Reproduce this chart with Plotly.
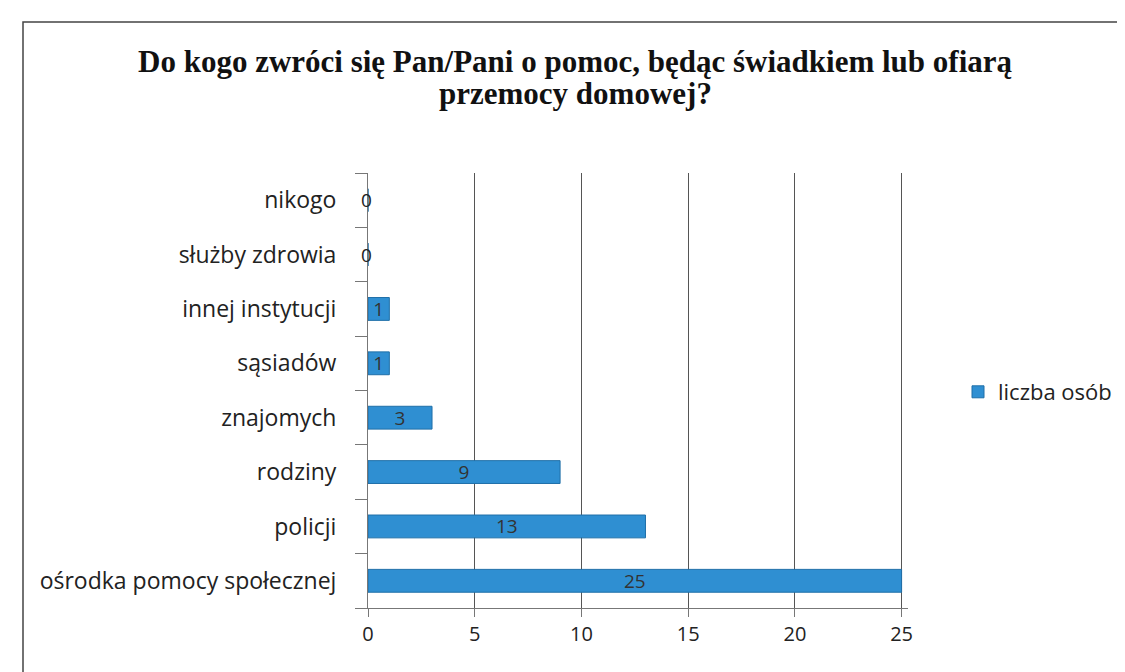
import plotly.graph_objects as go

categories = ["ośrodka pomocy społecznej", "policji", "rodziny", "znajomych",
              "sąsiadów", "innej instytucji", "służby zdrowia", "nikogo"]
values = [25, 13, 9, 3, 1, 1, 0, 0]
series_name = "liczba osób"
x_ticks = [0, 5, 10, 15, 20, 25]
title_lines = ["Do kogo zwróci się Pan/Pani o pomoc, będąc świadkiem lub ofiarą",
               "przemocy domowej?"]

W, H = 1125, 672
ml, mr, mt, mb = 360, 225, 165, 72
pw, ph = W - ml - mr, H - mt - mb

def px_x(p):
    return (p - ml) / pw

def px_y(p):
    return (H - mb - p) / ph

SANS = "Open Sans, Liberation Sans, sans-serif"
SERIF = "Liberation Serif, Times New Roman, serif"

fig = go.Figure()
fig.add_trace(go.Bar(
    y=categories, x=values, orientation="h", name=series_name,
    marker=dict(color="#2F8FD2", line=dict(color="#1F6FA8", width=1)),
    width=0.42,
    text=[str(v) if v > 0 else "" for v in values], textposition="inside",
    insidetextanchor="middle", textangle=0, constraintext="none",
    textfont=dict(family=SANS, size=19, color="#333333"),
    cliponaxis=False, showlegend=True,
))
# zero values shown at the axis
for c, v in zip(categories, values):
    if v == 0:
        fig.add_annotation(x=0, y=c, text="0", showarrow=False, xanchor="center", xshift=-2,
                           font=dict(family=SANS, size=19, color="#222"))

for i, (line, ypx) in enumerate(zip(title_lines, [53, 86])):
    fig.add_annotation(xref="paper", yref="paper", x=px_x(567), y=px_y(ypx),
                       xanchor="center", yanchor="middle", showarrow=False,
                       text=f"<b>{line}</b>",
                       font=dict(family=SERIF, size=31, color="#111"))

fig.update_layout(
    width=W, height=H, autosize=False,
    margin=dict(l=ml, r=mr, t=mt, b=mb),
    paper_bgcolor="white", plot_bgcolor="white",
    uniformtext=dict(minsize=19, mode="show"),
    xaxis=dict(range=[0, 25.3], tickvals=x_ticks, showgrid=True, gridcolor="#555", gridwidth=1,
               zeroline=False, showline=True, linecolor="#777", ticks="outside", ticklen=8,
               tickcolor="#777",
               tickfont=dict(family=SANS, size=20, color="#222")),
    yaxis=dict(type="category", categoryorder="array", categoryarray=categories,
               showline=True, linecolor="#777", ticks="outside", ticklen=12, tickcolor="#777",
               tickson="boundaries", showgrid=False, ticklabelstandoff=26,
               tickfont=dict(family=SANS, size=23, color="#222")),
    legend=dict(x=px_x(950), y=px_y(384), xanchor="left", yanchor="middle",
                font=dict(family=SANS, size=22, color="#222"),
                bgcolor="rgba(0,0,0,0)"),
    bargap=0.5,
    shapes=[dict(type="rect", xref="paper", yref="paper",
                 x0=px_x(15), x1=px_x(1115), y0=px_y(666), y1=px_y(14),
                 line=dict(color="#444", width=1.5), fillcolor="rgba(0,0,0,0)", layer="below")],
)

fig.write_html("out.html")
